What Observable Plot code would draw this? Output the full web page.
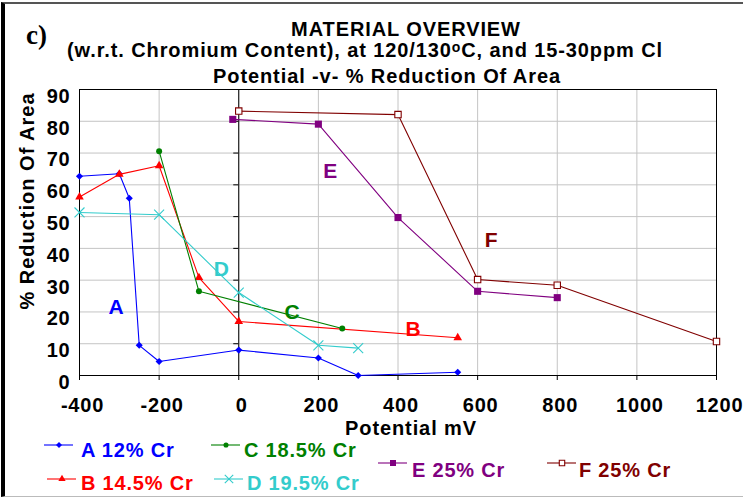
<!DOCTYPE html>
<html><head><meta charset="utf-8">
<script src="https://cdn.jsdelivr.net/npm/d3@7"></script>
<script src="https://cdn.jsdelivr.net/npm/@observablehq/plot@0.6"></script>
<style>
html,body{margin:0;padding:0;background:#fff;}
body{width:743px;height:498px;position:relative;overflow:hidden;font-family:"Liberation Sans",Arial,sans-serif;font-weight:bold;}
#frame{position:absolute;left:1px;top:2px;width:760px;height:492px;border-left:4px solid #000;border-top:2px solid #555;border-bottom:1px solid #bbb;}
.t{position:absolute;white-space:nowrap;transform:translateX(-50%);font-size:20px;line-height:20px;letter-spacing:0.9px;color:#000;}
#chart{position:absolute;left:0;top:0;}
#chart svg text{letter-spacing:0.8px;}
.lg{position:absolute;white-space:nowrap;font-size:20px;line-height:20px;letter-spacing:0.8px;}
.sw{position:absolute;}
#ytitle{position:absolute;left:27px;top:201px;transform:translate(-50%,-50%) rotate(-90deg);white-space:nowrap;font-size:20px;line-height:20px;letter-spacing:1px;}
#cpanel{position:absolute;left:26px;top:22px;font-family:"Liberation Serif","Times New Roman",serif;font-size:27px;line-height:27px;font-weight:bold;}
</style></head><body>
<div id="frame"></div>
<div id="chart"></div>
<div id="cpanel">c)</div>
<div class="t" style="left:406px;top:19px;">MATERIAL OVERVIEW</div>
<div class="t" style="left:365px;top:40px;">(w.r.t. Chromium Content), at 120/130<span style="font-size:14px;position:relative;top:-5px;">o</span>C, and 15-30ppm Cl</div>
<div class="t" style="left:387px;top:66px;">Potential -v- % Reduction Of Area</div>
<div class="t" style="left:411px;top:418px;">Potential mV</div>
<div id="ytitle">% Reduction Of Area</div>
<script>
const xTicks = [-400, -200, 0, 200, 400, 600, 800, 1000, 1200];
const yTicks = [0, 10, 20, 30, 40, 50, 60, 70, 80, 90];

const seriesNames = ["A 12% Cr", "B 14.5% Cr", "C 18.5% Cr", "D 19.5% Cr", "E 25% Cr", "F 25% Cr"];
const seriesColors = ["#0000ff", "#ff0000", "#008000", "#33cccc", "#800080", "#800000"];
const seriesSymbols = ["diamond2", "triangle", "circle", "times", "square", "square"];

const aX = [-400, -300, -275, -250, -200, 0, 200, 300, 550];
const aY = [62.7, 63.5, 55.8, 9.5, 4.4, 8.0, 5.5, 0, 1.0];
const bX = [-400, -300, -200, -100, 0, 550];
const bY = [56.2, 63.3, 66.0, 30.8, 17.0, 11.9];
const cX = [-200, -100, 260];
const cY = [70.6, 26.5, 14.8];
const dX = [-400, -200, 0, 200, 300];
const dY = [51.3, 50.6, 26.1, 9.5, 8.6];
const eX = [-15, 200, 400, 600, 800];
const eY = [80.6, 79.1, 49.7, 26.5, 24.5];
const fX = [0, 400, 600, 800, 1200];
const fY = [83.2, 82.1, 30.2, 28.4, 10.7];

const labelText = ["A", "B", "C", "D", "E", "F"];
const labelX = [-307, 439, 135, -43, 231, 635];
const labelY = [21.4, 14.5, 19.8, 33.4, 64.3, 42.5];

const xs = [aX, bX, cX, dX, eX, fX];
const ys = [aY, bY, cY, dY, eY, fY];

// marker styling per series (style, not data)
const markerStyle = [
  {r: 3.2, fill: seriesColors[0], stroke: "none"},
  {r: 3.2, fill: seriesColors[1], stroke: "none"},
  {r: 3.0, fill: seriesColors[2], stroke: "none"},
  {r: 4.6, fill: "none", stroke: seriesColors[3], strokeWidth: 1.1},
  {r: 4.0, fill: seriesColors[4], stroke: "none"},
  {r: 3.6, fill: "white", stroke: seriesColors[5], strokeWidth: 1.1}
];

const seriesMarks = [];
seriesNames.forEach((name, i) => {
  const rows = xs[i].map((x, j) => ({series: name, x, y: ys[i][j]}));
  seriesMarks.push(Plot.line(rows, {x: "x", y: "y", stroke: seriesColors[i], strokeWidth: 1.1}));
  seriesMarks.push(Plot.dot(rows, {x: "x", y: "y", symbol: seriesSymbols[i], ...markerStyle[i]}));
});

const labelRows = labelText.map((t, i) => ({t, x: labelX[i], y: labelY[i], c: seriesColors[i]}));

const plot = Plot.plot({
  width: 743,
  height: 498,
  marginLeft: 79,
  marginRight: 27,
  marginTop: 89,
  marginBottom: 123,
  x: {domain: [-400, 1200]},
  y: {domain: [0, 90]},
  style: {fontFamily: "'Liberation Sans', Arial, sans-serif", fontWeight: "bold", background: "transparent", overflow: "visible"},
  marks: [
    Plot.gridX(xTicks, {stroke: "#c4c4c4", strokeOpacity: 1}),
    Plot.gridY(yTicks, {stroke: "#c4c4c4", strokeOpacity: 1}),
    Plot.ruleX([0], {stroke: "black", strokeWidth: 1}),
    Plot.ruleY(yTicks, {x1: 0, x2: 0, insetLeft: -5, stroke: "black"}),
    Plot.frame({stroke: "black", strokeWidth: 1}),
    Plot.axisX(xTicks, {anchor: "bottom", tickSize: 5, fill: "none", stroke: "black", label: null}),
    Plot.axisX(xTicks, {anchor: "bottom", tickSize: 5, tickPadding: 17, stroke: "none", fill: "black", dx: 3, fontSize: 20, fontWeight: "bold", label: null, tickFormat: d => String(d)}),
    Plot.axisY(yTicks, {anchor: "left", tickSize: 0, tickPadding: 9, fill: "black", dy: 7, fontSize: 20, fontWeight: "bold", label: null, tickFormat: d => String(d)}),
    ...seriesMarks,
    Plot.text(labelRows, {x: "x", y: "y", text: "t", fill: "c", fontSize: 21, fontWeight: "bold"})
  ]
});
document.getElementById("chart").appendChild(plot);

// legend
const legendPos = [
  [44, 445, 81, 440],
  [47, 479, 81, 473],
  [211, 445, 244, 440],
  [214, 479, 247, 473],
  [378, 463, 412, 460],
  [547, 463, 579, 460]
];
const symMap = {diamond2: d3.symbolDiamond2, triangle: d3.symbolTriangle, circle: d3.symbolCircle, times: d3.symbolTimes, square: d3.symbolSquare};
seriesNames.forEach((name, i) => {
  const [lx, ly, tx, ty] = legendPos[i];
  const ms = markerStyle[i];
  const r = ms.r * 0.85;
  const path = d3.symbol(symMap[seriesSymbols[i]], Math.PI * r * r)();
  const sw = document.createElement("div");
  sw.className = "sw";
  sw.style.left = lx + "px";
  sw.style.top = (ly - 7) + "px";
  sw.innerHTML = `<svg width="30" height="14" style="overflow:visible"><line x1="0" x2="29" y1="7" y2="7" stroke="${seriesColors[i]}" stroke-width="1.1"/><path transform="translate(15,7)" d="${path}" fill="${ms.fill}" stroke="${ms.stroke}" stroke-width="${ms.strokeWidth || 0}"/></svg>`;
  document.body.appendChild(sw);
  const tdiv = document.createElement("div");
  tdiv.className = "lg";
  tdiv.style.left = tx + "px";
  tdiv.style.top = ty + "px";
  tdiv.style.color = seriesColors[i];
  tdiv.textContent = name;
  document.body.appendChild(tdiv);
});
</script>
</body></html>
